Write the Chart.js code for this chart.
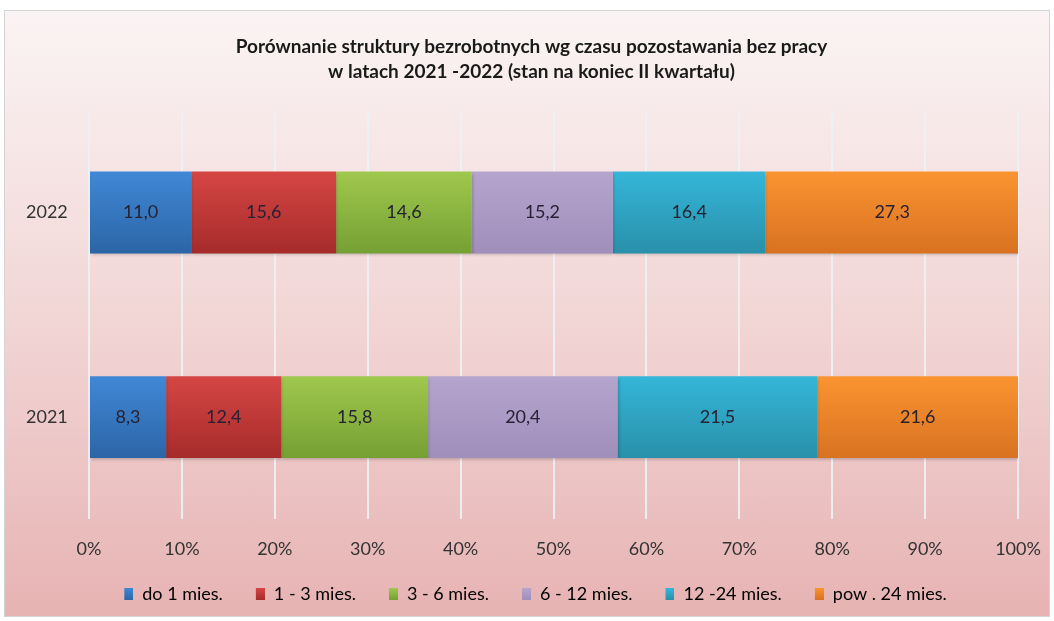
<!DOCTYPE html>
<html>
<head>
<meta charset="utf-8">
<script src="https://cdn.jsdelivr.net/npm/chart.js@4"></script>
<style>
  html, body { margin: 0; padding: 0; background: #fff; }
  #frame {
    position: absolute; left: 4px; top: 10px; width: 1044px; height: 605px;
    border: 1px solid #d4d4d4;
    background: linear-gradient(to bottom, #fbf4f4 0%, #f2d6d6 50%, #e7b3b3 100%);
  }
  #frame canvas { display: block; }
</style>
</head>
<body>
<div id="frame"><canvas id="c" width="1044" height="605"></canvas></div>
<script>
// Struktura bezrobotnych wg czasu pozostawania bez pracy, 2021-2022 (% ogółu)
const years = ["2022", "2021"];
const groups = ["do 1 mies.", "1 - 3 mies.", "3 - 6 mies.", "6 - 12 mies.", "12 -24 mies.", "pow . 24 mies."];
const do1 = [11.0, 8.3];
const m1to3 = [15.6, 12.4];
const m3to6 = [14.6, 15.8];
const m6to12 = [15.2, 20.4];
const m12to24 = [16.4, 21.5];
const pow24 = [27.3, 21.6];
const xTicks = [0, 10, 20, 30, 40, 50, 60, 70, 80, 90, 100];

const series = [do1, m1to3, m3to6, m6to12, m12to24, pow24];
// [top, bottom] of each bar's vertical shading
const shades = [
  ["#4088d6", "#2c65a6"],
  ["#d54644", "#a62b2b"],
  ["#a0c84e", "#75a033"],
  ["#b5a5cd", "#a08ebb"],
  ["#35b6d8", "#2990aa"],
  ["#fa9431", "#d97221"]
];
const FONT = "Lato, 'Open Sans', sans-serif";
const HALF = 41;
const KEY_W = 17; // legend marker slot: blank lead-in, square at its right end
const PAD_L = 40; // pushes title + legend a bit right of centre, like the original
const PLOT_L = 84; // left edge of the plot inside the canvas

const barFill = (pair) => (ctx) => {
  const chart = ctx.chart, ys = chart.scales.y;
  if (ctx.type !== "data" || !ys) return pair[0];
  const c = ys.getPixelForValue(ctx.dataIndex);
  if (!isFinite(c)) return pair[0];
  const g = chart.ctx.createLinearGradient(0, c - HALF, 0, c + HALF);
  g.addColorStop(0, pair[0]);
  g.addColorStop(1, pair[1]);
  return g;
};

function keyMarker(pair) {
  const cv = document.createElement("canvas");
  cv.width = KEY_W; cv.height = 12;
  const x = cv.getContext("2d");
  const g = x.createLinearGradient(0, 0, 0, 12);
  g.addColorStop(0, pair[0]);
  g.addColorStop(1, pair[1]);
  x.fillStyle = g;
  x.fillRect(KEY_W - 9, 0, 9, 12);
  return cv;
}

// soft shadow under the bars + values written in the middle of each segment
const barLabels = {
  id: "barLabels",
  beforeDatasetsDraw(chart) {
    const ctx = chart.ctx;
    ctx.save();
    ctx.shadowColor = "rgba(0,0,0,0.22)";
    ctx.shadowBlur = 3;
    ctx.shadowOffsetX = 1;
    ctx.shadowOffsetY = 2;
  },
  afterDatasetsDraw(chart) {
    const ctx = chart.ctx;
    ctx.restore();
    ctx.save();
    ctx.font = "18px " + FONT;
    ctx.fillStyle = "#262233";
    ctx.textAlign = "center";
    ctx.textBaseline = "middle";
    chart.data.datasets.forEach((ds, i) => {
      chart.getDatasetMeta(i).data.forEach((bar, j) => {
        const p = bar.getProps(["x", "y", "base"], true);
        ctx.fillText(ds.data[j].toFixed(1).replace(".", ","), (p.x + p.base) / 2, p.y);
      });
    });
    ctx.restore();
  }
};

new Chart(document.getElementById("c"), {
  type: "bar",
  data: {
    labels: years,
    datasets: series.map((d, i) => ({
      label: groups[i],
      data: d,
      backgroundColor: barFill(shades[i]),
      borderWidth: 0,
      categoryPercentage: 1,
      barPercentage: 0.4
    }))
  },
  options: {
    indexAxis: "y",
    responsive: false,
    animation: false,
    layout: { padding: { left: PAD_L, right: 31, top: 21, bottom: 3 } },
    plugins: {
      tooltip: { enabled: false },
      title: {
        display: true,
        text: ["Porównanie struktury bezrobotnych wg czasu pozostawania bez pracy", "w latach 2021 -2022 (stan na koniec II kwartału)"],
        color: "#1a1a1a",
        font: { family: FONT, size: 19, weight: "bold", lineHeight: 1.32 },
        padding: { top: 2, bottom: 26 }
      },
      legend: {
        position: "bottom",
        labels: {
          color: "#333",
          font: { family: FONT, size: 18 },
          usePointStyle: true, pointStyleWidth: KEY_W, boxHeight: 12, padding: 25,
          generateLabels: (chart) => chart.data.datasets.map((ds, i) => ({
            text: ds.label, fillStyle: shades[i][1], strokeStyle: shades[i][1], lineWidth: 0,
            pointStyle: keyMarker(shades[i]), datasetIndex: i
          }))
        }
      }
    },
    scales: {
      x: {
        stacked: true, min: 0, max: 100,
        afterBuildTicks: (s) => { s.ticks = xTicks.map(v => ({ value: v })); },
        ticks: { callback: (v) => v + "%", color: "#333", font: { family: FONT, size: 18 }, padding: 0 },
        grid: { color: "rgba(236,240,247,0.95)", lineWidth: 2, drawTicks: true, tickLength: 19, tickColor: "rgba(0,0,0,0)" },
        border: { display: false }
      },
      y: {
        stacked: true,
        afterFit: (s) => { s.width = PLOT_L - PAD_L; },
        // mirrored so the year labels are not clipped to the narrow axis box
        ticks: { mirror: true, color: "#333", font: { family: FONT, size: 18 }, padding: 21 - PLOT_L },
        grid: { display: false },
        border: { display: false }
      }
    }
  },
  plugins: [barLabels]
});
</script>
</body>
</html>
